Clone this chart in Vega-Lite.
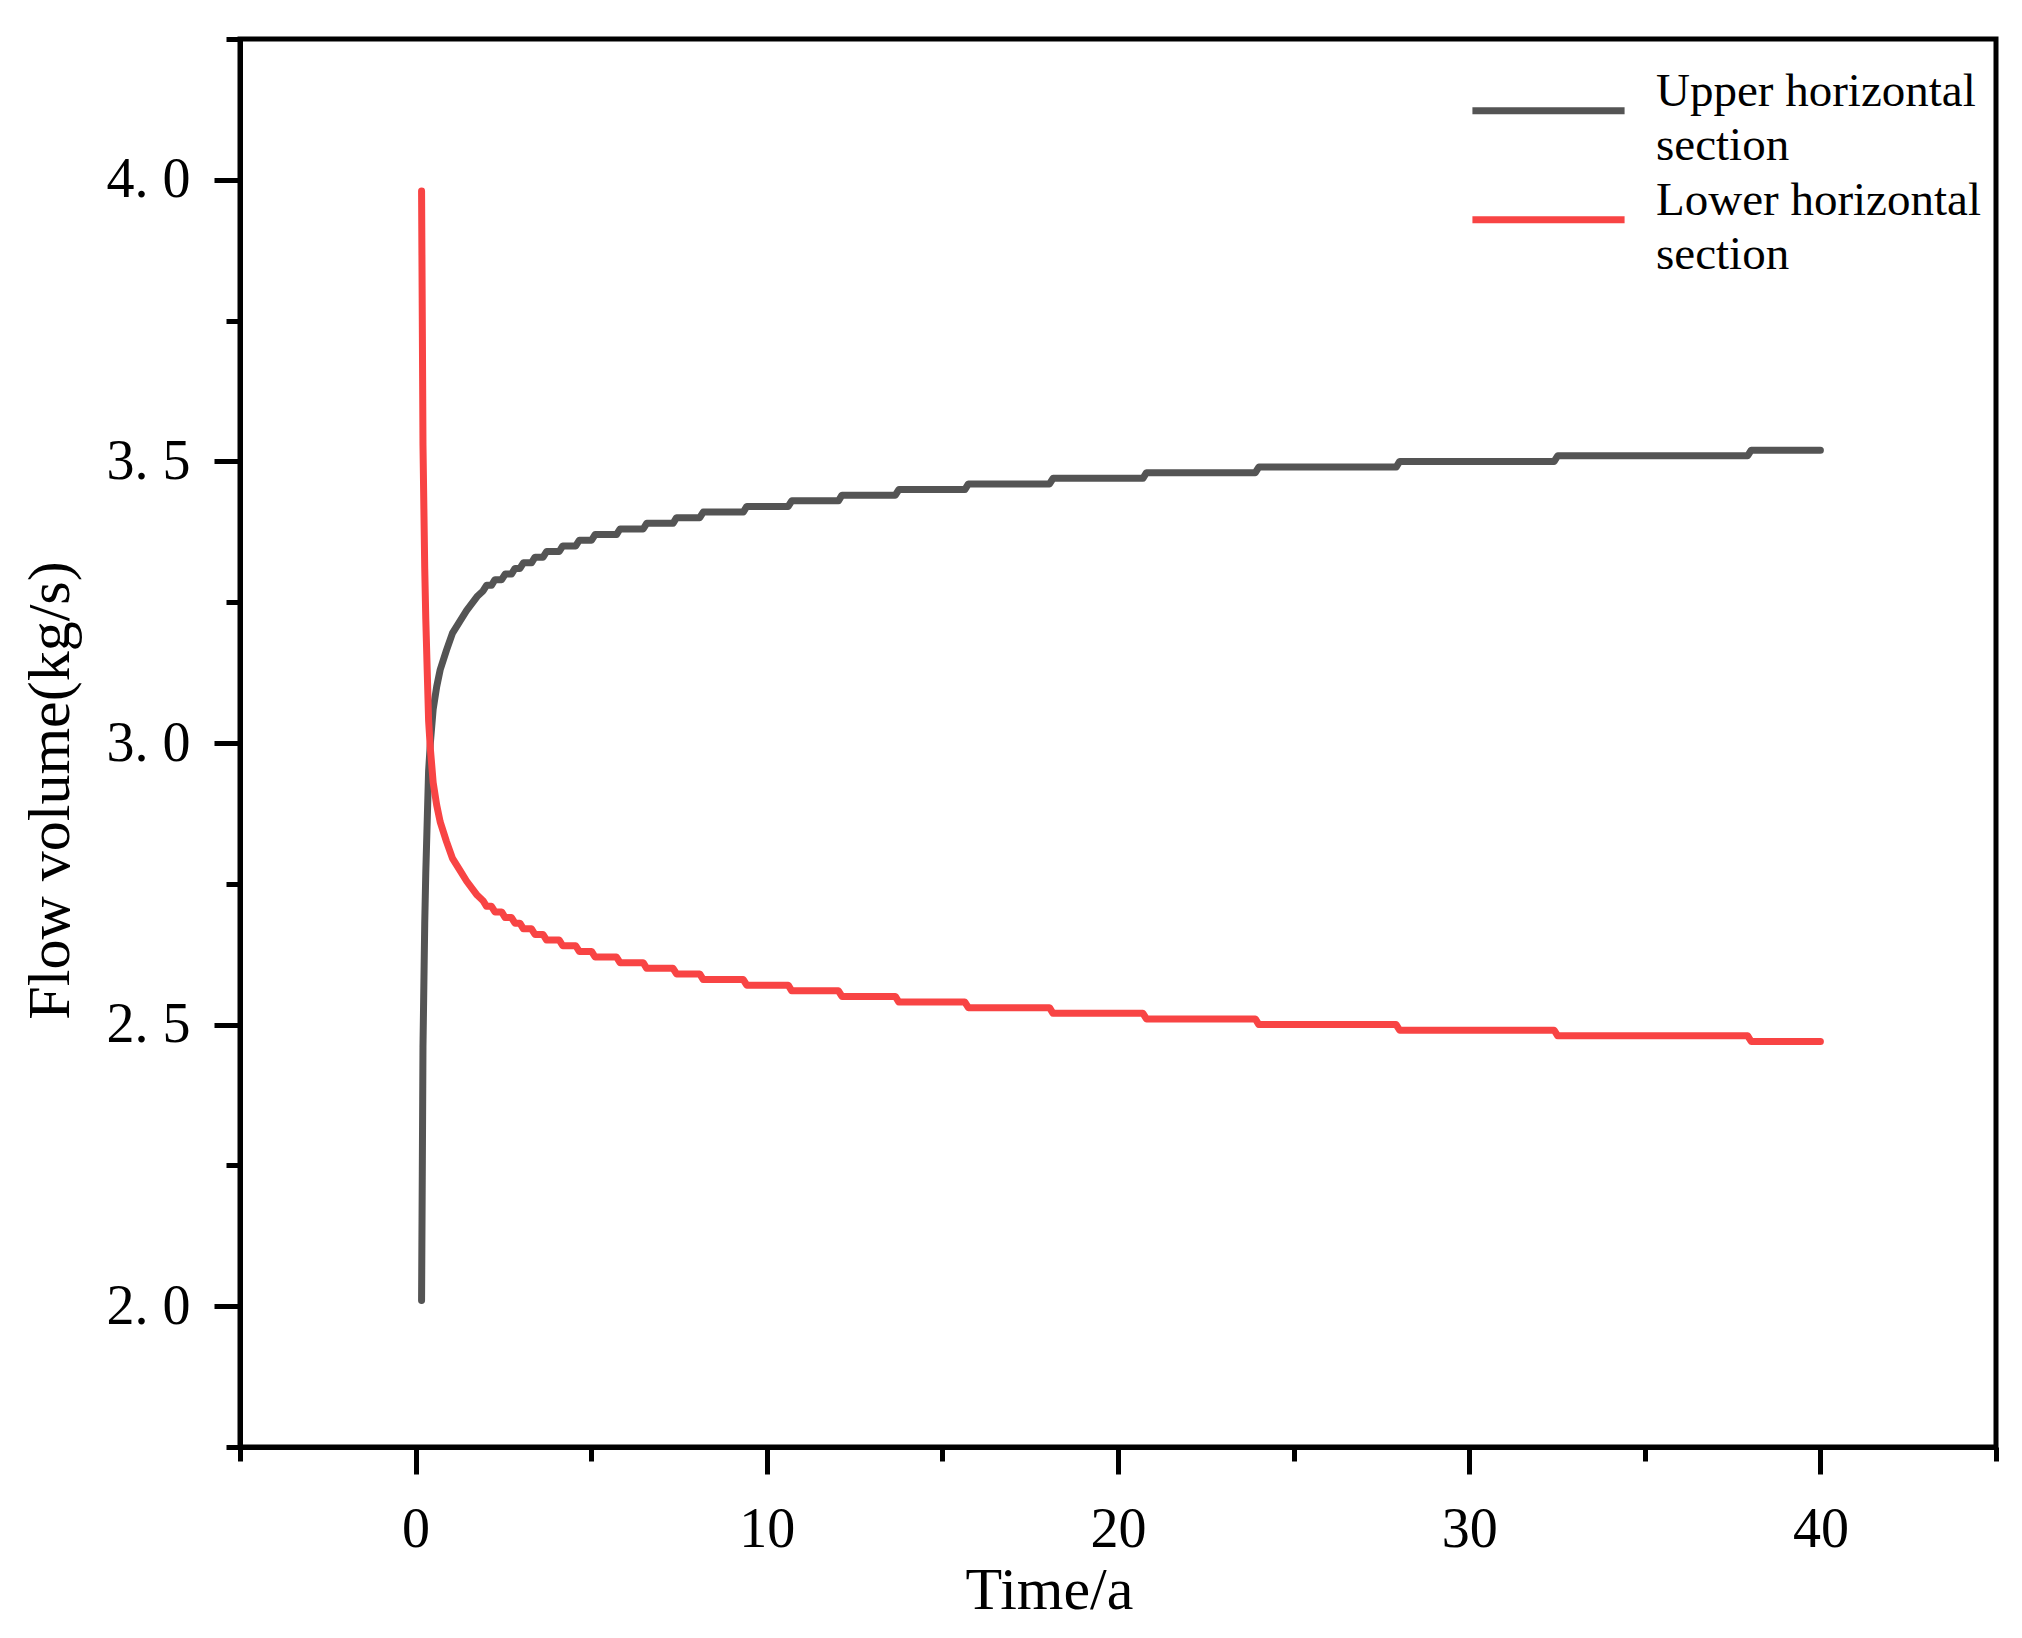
{
  "$schema": "https://vega.github.io/schema/vega-lite/v6.json",
  "width": 1756,
  "height": 1408,
  "autosize": {"type": "none"},
  "padding": {"left": 240, "top": 39, "right": 26, "bottom": 191},
  "background": "white",
  "config": {
    "view": {"stroke": "black", "strokeWidth": 5},
    "font": "Liberation Serif",
    "style": {"guide-label": {"lineHeight": 54}},
    "axis": {
      "grid": false,
      "domainColor": "black",
      "domainWidth": 5,
      "tickColor": "black",
      "tickWidth": 5,
      "labelFont": "Liberation Serif",
      "labelFontSize": 56,
      "labelColor": "black",
      "labelFlush": false,
      "labelOverlap": false,
      "titleFont": "Liberation Serif",
      "titleFontSize": 60,
      "titleFontWeight": "normal",
      "titleColor": "black"
    }
  },
  "data": {
    "values": [
      {"time": 0.17, "flow": 2.01, "section": "Upper horizontal section"},
      {"time": 0.19, "flow": 2.23, "section": "Upper horizontal section"},
      {"time": 0.21, "flow": 2.46, "section": "Upper horizontal section"},
      {"time": 0.26, "flow": 2.68, "section": "Upper horizontal section"},
      {"time": 0.29, "flow": 2.77, "section": "Upper horizontal section"},
      {"time": 0.33, "flow": 2.86, "section": "Upper horizontal section"},
      {"time": 0.37, "flow": 2.95, "section": "Upper horizontal section"},
      {"time": 0.42, "flow": 3.00, "section": "Upper horizontal section"},
      {"time": 0.50, "flow": 3.06, "section": "Upper horizontal section"},
      {"time": 0.60, "flow": 3.10, "section": "Upper horizontal section"},
      {"time": 0.70, "flow": 3.13, "section": "Upper horizontal section"},
      {"time": 0.88, "flow": 3.165, "section": "Upper horizontal section"},
      {"time": 1.05, "flow": 3.195, "section": "Upper horizontal section"},
      {"time": 1.25, "flow": 3.215, "section": "Upper horizontal section"},
      {"time": 1.45, "flow": 3.235, "section": "Upper horizontal section"},
      {"time": 1.75, "flow": 3.26, "section": "Upper horizontal section"},
      {"time": 1.92, "flow": 3.27, "section": "Upper horizontal section"},
      {"time": 2.02, "flow": 3.28, "section": "Upper horizontal section"},
      {"time": 2.16, "flow": 3.28, "section": "Upper horizontal section"},
      {"time": 2.26, "flow": 3.29, "section": "Upper horizontal section"},
      {"time": 2.45, "flow": 3.29, "section": "Upper horizontal section"},
      {"time": 2.55, "flow": 3.30, "section": "Upper horizontal section"},
      {"time": 2.73, "flow": 3.30, "section": "Upper horizontal section"},
      {"time": 2.83, "flow": 3.31, "section": "Upper horizontal section"},
      {"time": 2.97, "flow": 3.31, "section": "Upper horizontal section"},
      {"time": 3.07, "flow": 3.32, "section": "Upper horizontal section"},
      {"time": 3.30, "flow": 3.32, "section": "Upper horizontal section"},
      {"time": 3.40, "flow": 3.33, "section": "Upper horizontal section"},
      {"time": 3.63, "flow": 3.33, "section": "Upper horizontal section"},
      {"time": 3.73, "flow": 3.34, "section": "Upper horizontal section"},
      {"time": 4.09, "flow": 3.34, "section": "Upper horizontal section"},
      {"time": 4.19, "flow": 3.35, "section": "Upper horizontal section"},
      {"time": 4.56, "flow": 3.35, "section": "Upper horizontal section"},
      {"time": 4.66, "flow": 3.36, "section": "Upper horizontal section"},
      {"time": 5.01, "flow": 3.36, "section": "Upper horizontal section"},
      {"time": 5.11, "flow": 3.37, "section": "Upper horizontal section"},
      {"time": 5.72, "flow": 3.37, "section": "Upper horizontal section"},
      {"time": 5.82, "flow": 3.38, "section": "Upper horizontal section"},
      {"time": 6.48, "flow": 3.38, "section": "Upper horizontal section"},
      {"time": 6.58, "flow": 3.39, "section": "Upper horizontal section"},
      {"time": 7.33, "flow": 3.39, "section": "Upper horizontal section"},
      {"time": 7.43, "flow": 3.40, "section": "Upper horizontal section"},
      {"time": 8.09, "flow": 3.40, "section": "Upper horizontal section"},
      {"time": 8.19, "flow": 3.41, "section": "Upper horizontal section"},
      {"time": 9.33, "flow": 3.41, "section": "Upper horizontal section"},
      {"time": 9.43, "flow": 3.42, "section": "Upper horizontal section"},
      {"time": 10.61, "flow": 3.42, "section": "Upper horizontal section"},
      {"time": 10.71, "flow": 3.43, "section": "Upper horizontal section"},
      {"time": 12.04, "flow": 3.43, "section": "Upper horizontal section"},
      {"time": 12.14, "flow": 3.44, "section": "Upper horizontal section"},
      {"time": 13.66, "flow": 3.44, "section": "Upper horizontal section"},
      {"time": 13.76, "flow": 3.45, "section": "Upper horizontal section"},
      {"time": 15.64, "flow": 3.45, "section": "Upper horizontal section"},
      {"time": 15.74, "flow": 3.46, "section": "Upper horizontal section"},
      {"time": 18.05, "flow": 3.46, "section": "Upper horizontal section"},
      {"time": 18.15, "flow": 3.47, "section": "Upper horizontal section"},
      {"time": 20.71, "flow": 3.47, "section": "Upper horizontal section"},
      {"time": 20.81, "flow": 3.48, "section": "Upper horizontal section"},
      {"time": 23.91, "flow": 3.48, "section": "Upper horizontal section"},
      {"time": 24.01, "flow": 3.49, "section": "Upper horizontal section"},
      {"time": 27.92, "flow": 3.49, "section": "Upper horizontal section"},
      {"time": 28.02, "flow": 3.50, "section": "Upper horizontal section"},
      {"time": 32.42, "flow": 3.50, "section": "Upper horizontal section"},
      {"time": 32.52, "flow": 3.51, "section": "Upper horizontal section"},
      {"time": 37.93, "flow": 3.51, "section": "Upper horizontal section"},
      {"time": 38.03, "flow": 3.52, "section": "Upper horizontal section"},
      {"time": 40.00, "flow": 3.52, "section": "Upper horizontal section"},
      {"time": 0.17, "flow": 3.98, "section": "Lower horizontal section"},
      {"time": 0.19, "flow": 3.76, "section": "Lower horizontal section"},
      {"time": 0.21, "flow": 3.53, "section": "Lower horizontal section"},
      {"time": 0.26, "flow": 3.31, "section": "Lower horizontal section"},
      {"time": 0.29, "flow": 3.22, "section": "Lower horizontal section"},
      {"time": 0.33, "flow": 3.13, "section": "Lower horizontal section"},
      {"time": 0.37, "flow": 3.04, "section": "Lower horizontal section"},
      {"time": 0.42, "flow": 2.99, "section": "Lower horizontal section"},
      {"time": 0.50, "flow": 2.93, "section": "Lower horizontal section"},
      {"time": 0.60, "flow": 2.89, "section": "Lower horizontal section"},
      {"time": 0.70, "flow": 2.86, "section": "Lower horizontal section"},
      {"time": 0.88, "flow": 2.825, "section": "Lower horizontal section"},
      {"time": 1.05, "flow": 2.795, "section": "Lower horizontal section"},
      {"time": 1.25, "flow": 2.775, "section": "Lower horizontal section"},
      {"time": 1.45, "flow": 2.755, "section": "Lower horizontal section"},
      {"time": 1.75, "flow": 2.73, "section": "Lower horizontal section"},
      {"time": 1.92, "flow": 2.72, "section": "Lower horizontal section"},
      {"time": 2.02, "flow": 2.71, "section": "Lower horizontal section"},
      {"time": 2.16, "flow": 2.71, "section": "Lower horizontal section"},
      {"time": 2.26, "flow": 2.70, "section": "Lower horizontal section"},
      {"time": 2.45, "flow": 2.70, "section": "Lower horizontal section"},
      {"time": 2.55, "flow": 2.69, "section": "Lower horizontal section"},
      {"time": 2.73, "flow": 2.69, "section": "Lower horizontal section"},
      {"time": 2.83, "flow": 2.68, "section": "Lower horizontal section"},
      {"time": 2.97, "flow": 2.68, "section": "Lower horizontal section"},
      {"time": 3.07, "flow": 2.67, "section": "Lower horizontal section"},
      {"time": 3.30, "flow": 2.67, "section": "Lower horizontal section"},
      {"time": 3.40, "flow": 2.66, "section": "Lower horizontal section"},
      {"time": 3.63, "flow": 2.66, "section": "Lower horizontal section"},
      {"time": 3.73, "flow": 2.65, "section": "Lower horizontal section"},
      {"time": 4.09, "flow": 2.65, "section": "Lower horizontal section"},
      {"time": 4.19, "flow": 2.64, "section": "Lower horizontal section"},
      {"time": 4.56, "flow": 2.64, "section": "Lower horizontal section"},
      {"time": 4.66, "flow": 2.63, "section": "Lower horizontal section"},
      {"time": 5.01, "flow": 2.63, "section": "Lower horizontal section"},
      {"time": 5.11, "flow": 2.62, "section": "Lower horizontal section"},
      {"time": 5.72, "flow": 2.62, "section": "Lower horizontal section"},
      {"time": 5.82, "flow": 2.61, "section": "Lower horizontal section"},
      {"time": 6.48, "flow": 2.61, "section": "Lower horizontal section"},
      {"time": 6.58, "flow": 2.60, "section": "Lower horizontal section"},
      {"time": 7.33, "flow": 2.60, "section": "Lower horizontal section"},
      {"time": 7.43, "flow": 2.59, "section": "Lower horizontal section"},
      {"time": 8.09, "flow": 2.59, "section": "Lower horizontal section"},
      {"time": 8.19, "flow": 2.58, "section": "Lower horizontal section"},
      {"time": 9.33, "flow": 2.58, "section": "Lower horizontal section"},
      {"time": 9.43, "flow": 2.57, "section": "Lower horizontal section"},
      {"time": 10.61, "flow": 2.57, "section": "Lower horizontal section"},
      {"time": 10.71, "flow": 2.56, "section": "Lower horizontal section"},
      {"time": 12.04, "flow": 2.56, "section": "Lower horizontal section"},
      {"time": 12.14, "flow": 2.55, "section": "Lower horizontal section"},
      {"time": 13.66, "flow": 2.55, "section": "Lower horizontal section"},
      {"time": 13.76, "flow": 2.54, "section": "Lower horizontal section"},
      {"time": 15.64, "flow": 2.54, "section": "Lower horizontal section"},
      {"time": 15.74, "flow": 2.53, "section": "Lower horizontal section"},
      {"time": 18.05, "flow": 2.53, "section": "Lower horizontal section"},
      {"time": 18.15, "flow": 2.52, "section": "Lower horizontal section"},
      {"time": 20.71, "flow": 2.52, "section": "Lower horizontal section"},
      {"time": 20.81, "flow": 2.51, "section": "Lower horizontal section"},
      {"time": 23.91, "flow": 2.51, "section": "Lower horizontal section"},
      {"time": 24.01, "flow": 2.50, "section": "Lower horizontal section"},
      {"time": 27.92, "flow": 2.50, "section": "Lower horizontal section"},
      {"time": 28.02, "flow": 2.49, "section": "Lower horizontal section"},
      {"time": 32.42, "flow": 2.49, "section": "Lower horizontal section"},
      {"time": 32.52, "flow": 2.48, "section": "Lower horizontal section"},
      {"time": 37.93, "flow": 2.48, "section": "Lower horizontal section"},
      {"time": 38.03, "flow": 2.47, "section": "Lower horizontal section"},
      {"time": 40.00, "flow": 2.47, "section": "Lower horizontal section"}
    ]
  },
  "mark": {"type": "line", "strokeWidth": 7, "strokeCap": "round", "strokeJoin": "round"},
  "encoding": {
    "x": {
      "field": "time",
      "type": "quantitative",
      "scale": {"domain": [-5, 45], "nice": false, "zero": false},
      "axis": {
        "title": "Time/a",
        "values": [-5, 0, 5, 10, 15, 20, 25, 30, 35, 40, 45],
        "labelExpr": "datum.value % 10 === 0 ? datum.label : ''",
        "tickSize": {"condition": {"test": "datum.value % 10 === 0", "value": 27}, "value": 14},
        "labelPadding": 28,
        "titleX": 809,
        "titleY": 161,
        "titleBaseline": "alphabetic"
      }
    },
    "y": {
      "field": "flow",
      "type": "quantitative",
      "scale": {"domain": [1.75, 4.25], "nice": false, "zero": false},
      "axis": {
        "title": "Flow volume(kg/s)",
        "values": [1.75, 2, 2.25, 2.5, 2.75, 3, 3.25, 3.5, 3.75, 4, 4.25],
        "labelExpr": "datum.value * 2 === round(datum.value * 2) ? replace(format(datum.value, '.1f'), '.', '. ') : ''",
        "tickSize": {"condition": {"test": "datum.value * 2 === round(datum.value * 2)", "value": 26}, "value": 14},
        "labelPadding": 24,
        "titleX": -172,
        "titleY": 751,
        "titleBaseline": "alphabetic"
      }
    },
    "color": {
      "field": "section",
      "type": "nominal",
      "scale": {
        "domain": ["Upper horizontal section", "Lower horizontal section"],
        "range": ["#545454", "#f84444"]
      },
      "legend": {
        "orient": "none",
        "legendX": 1281,
        "legendY": 25,
        "title": null,
        "padding": 0,
        "symbolType": "M-3.17,0.8L3.17,0.8",
        "symbolSize": 2304,
        "symbolStrokeWidth": 7,
        "symbolFillColor": "transparent",
        "labelFont": "Liberation Serif",
        "labelFontSize": 47,
        "labelColor": "black",
        "labelLimit": 600,
        "labelOffset": 80,
        "rowPadding": 4,
        "labelExpr": "datum.label === 'Upper horizontal section' ? ['Upper horizontal', 'section'] : ['Lower horizontal', 'section']"
      }
    }
  }
}
